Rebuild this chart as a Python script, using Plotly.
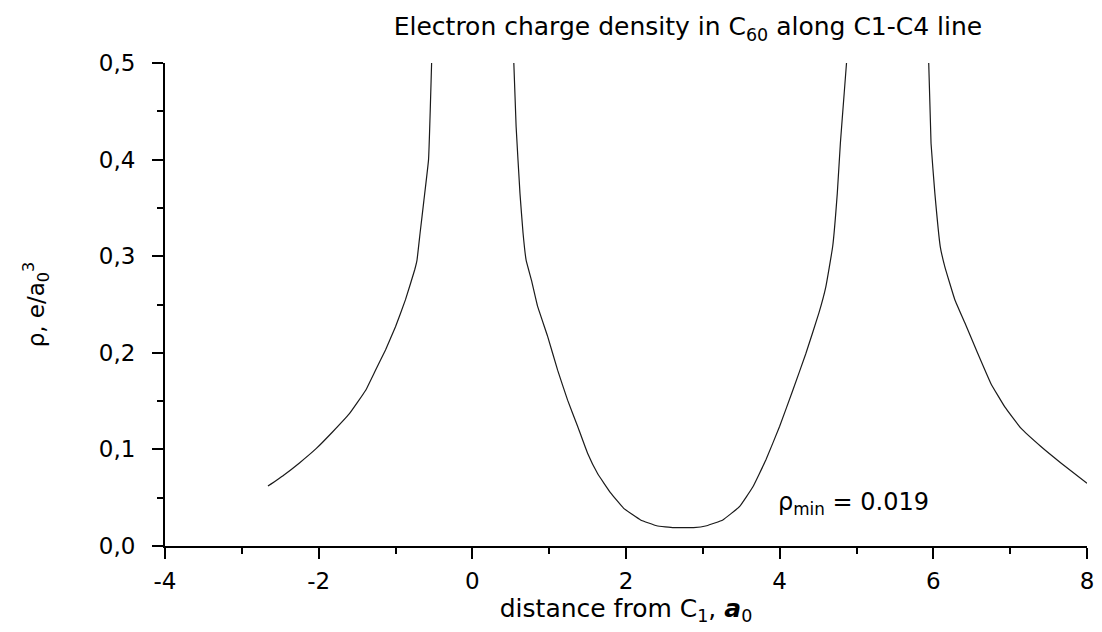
import plotly.graph_objects as go

# Branch left of C1 (clipped at 0.5)
x_left = [-2.66, -2.46, -2.25, -2.03, -1.82, -1.60, -1.39, -1.26, -1.13, -1.00, -0.87, -0.75,
          -0.72, -0.68, -0.63, -0.57, -0.53]
y_left = [0.062, 0.073, 0.086, 0.101, 0.118, 0.137, 0.161, 0.182, 0.203, 0.227, 0.255, 0.286,
          0.296, 0.324, 0.358, 0.400, 0.500]

# Branch between C1 and C4
x_mid = [0.54, 0.57, 0.62, 0.66, 0.70, 0.77, 0.85, 0.98, 1.11, 1.24, 1.37, 1.50, 1.63, 1.80,
         1.97, 2.19, 2.40, 2.62, 2.75, 2.88, 3.05, 3.26, 3.48, 3.65, 3.82, 4.00, 4.17, 4.34,
         4.51, 4.60, 4.69, 4.75, 4.79, 4.84, 4.87]
y_mid = [0.500, 0.434, 0.365, 0.324, 0.296, 0.275, 0.248, 0.217, 0.182, 0.151, 0.124, 0.096,
         0.075, 0.055, 0.039, 0.027, 0.021, 0.019, 0.019, 0.019, 0.021, 0.027, 0.041, 0.061,
         0.089, 0.124, 0.161, 0.199, 0.241, 0.268, 0.310, 0.365, 0.417, 0.469, 0.500]

# Branch right of C4
x_right = [5.94, 5.97, 6.02, 6.09, 6.15, 6.28, 6.41, 6.58, 6.75, 6.93, 7.14, 7.40, 7.66, 8.00]
y_right = [0.500, 0.417, 0.365, 0.310, 0.289, 0.255, 0.231, 0.199, 0.168, 0.144, 0.122, 0.103,
           0.086, 0.065]

x_ticks = [-4, -2, 0, 2, 4, 6, 8]
x_tick_labels = ["-4", "-2", "0", "2", "4", "6", "8"]
y_ticks = [0.0, 0.1, 0.2, 0.3, 0.4, 0.5]
y_tick_labels = ["0,0", "0,1", "0,2", "0,3", "0,4", "0,5"]

FONT = "DejaVu Sans, Arial, sans-serif"

fig = go.Figure()
for xs, ys in [(x_left, y_left), (x_mid, y_mid), (x_right, y_right)]:
    fig.add_trace(go.Scatter(x=xs, y=ys, mode="lines",
                             line=dict(color="#1a1a1a", width=1.2, shape="spline", smoothing=0.3),
                             showlegend=False, hoverinfo="skip"))

axis_common = dict(showgrid=False, zeroline=False, showline=True, linecolor="black", linewidth=2,
                   ticks="outside", tickcolor="black", tickwidth=2, ticklen=11,
                   tickfont=dict(family=FONT, size=23, color="black"))

fig.update_layout(
    width=1102, height=632,
    margin=dict(l=165, r=8, t=63, b=86),
    paper_bgcolor="white", plot_bgcolor="white",
    title=dict(text="Electron charge density in C<sub>60</sub> along C1-C4 line",
               x=0.6243, xanchor="center", y=0.958, yanchor="middle",
               font=dict(family=FONT, size=25, color="black")),
    xaxis=dict(range=[-4, 8], tickvals=x_ticks, ticktext=x_tick_labels,
               minor=dict(dtick=1, tick0=-4, ticks="outside", ticklen=6, tickwidth=2, tickcolor="black"),
               ticklabelstandoff=2,
               title=dict(text="distance from C<sub>1</sub>, <b><i>a</i></b><sub>0</sub>",
                          font=dict(family=FONT, size=25, color="black"), standoff=1),
               **axis_common),
    yaxis=dict(range=[0, 0.5], tickvals=y_ticks, ticktext=y_tick_labels,
               minor=dict(dtick=0.05, tick0=0, ticks="outside", ticklen=6, tickwidth=2, tickcolor="black"),
               ticklabelstandoff=12,
               title=dict(text="ρ, e/a<sub>0</sub><sup>3</sup>",
                          font=dict(family=FONT, size=23, color="black"), standoff=48),
               **axis_common),
    annotations=[dict(x=4.96, y=0.044, xref="x", yref="y", showarrow=False,
                      text="ρ<sub>min</sub> = 0.019",
                      font=dict(family=FONT, size=24, color="black"))],
)

fig.write_html("out.html", config={"displayModeBar": False},
               post_script="document.body.style.margin='0';document.body.style.overflow='hidden';")
